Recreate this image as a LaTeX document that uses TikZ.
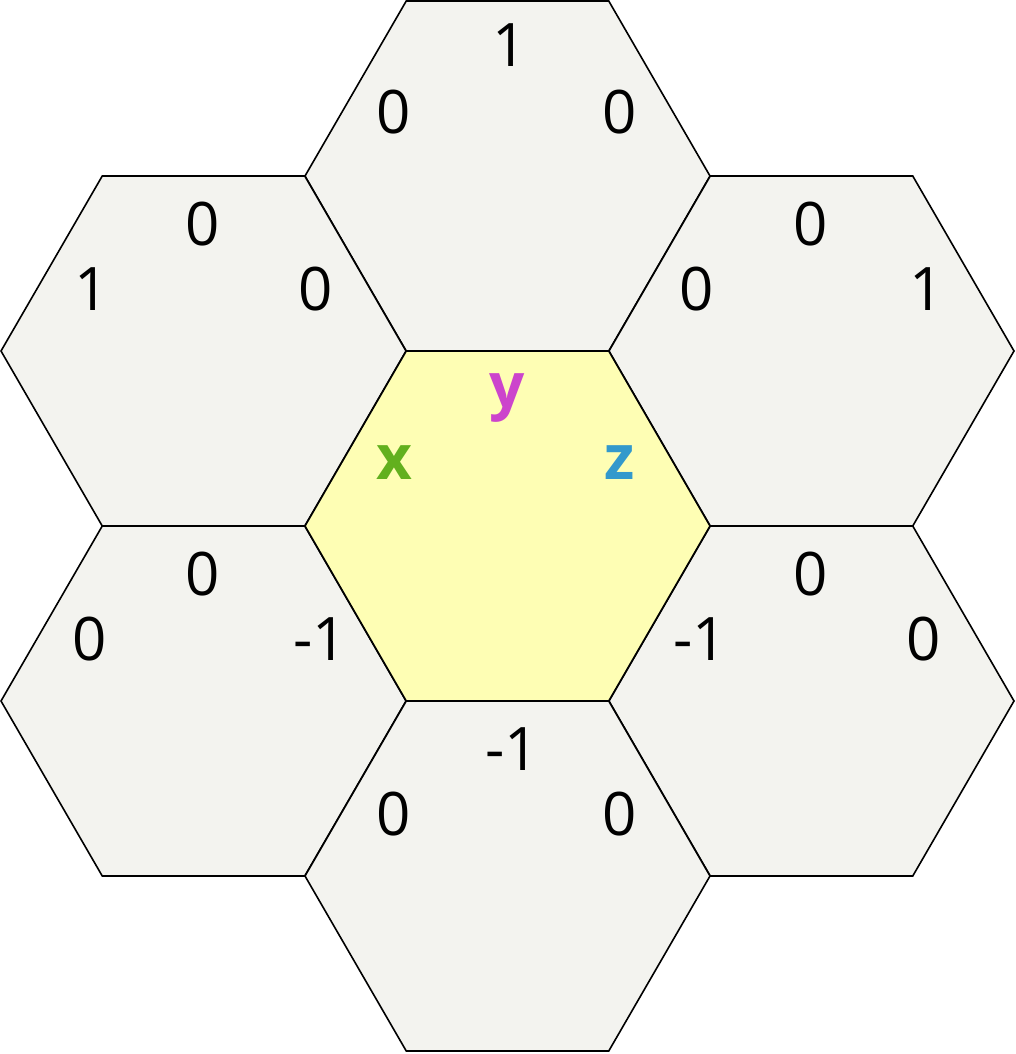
\documentclass[tikz,border=0pt]{standalone}
\usepackage{fontspec}
\setmainfont{Open Sans}
\definecolor{hexgray}{HTML}{F3F3EF}
\definecolor{hexyellow}{HTML}{FEFEB4}
\definecolor{xgreen}{HTML}{62B01E}
\definecolor{ymag}{HTML}{CC44CC}
\definecolor{zblue}{HTML}{3399CC}
\tikzset{
  hexcell/.style={draw=black, line width=1.6pt, line join=miter},
  lbl/.style={anchor=base, inner sep=0pt, font=\fontsize{60}{60}\selectfont},
  axlbl/.style={anchor=base, inner sep=0pt, font=\fontsize{62}{62}\selectfont\bfseries},
}
\newcommand{\hexat}[3]{%
  \fill[#3] (#1-202.5,#2) -- (#1-101.25,#2-175) -- (#1+101.25,#2-175) -- (#1+202.5,#2) -- (#1+101.25,#2+175) -- (#1-101.25,#2+175) -- cycle;
  \draw[hexcell] (#1-202.5,#2) -- (#1-101.25,#2-175) -- (#1+101.25,#2-175) -- (#1+202.5,#2) -- (#1+101.25,#2+175) -- (#1-101.25,#2+175) -- cycle;
}
\begin{document}
\begin{tikzpicture}[x=1pt,y=-1pt]
\useasboundingbox (0,0) rectangle (1015,1054);
\fill[white] (0,0) rectangle (1015,1054);
\hexat{507.5}{176}{hexgray}
\hexat{203.5}{351}{hexgray}
\hexat{811.5}{351}{hexgray}
\hexat{203.5}{701}{hexgray}
\hexat{811.5}{701}{hexgray}
\hexat{507.5}{876}{hexgray}
\hexat{507.5}{526}{hexyellow}
% top
\node[lbl] (t1) at (510,67) {1};
\node[lbl] (t2) at (394,133) {0};
\node[lbl] (t3) at (620,133) {0};
% upper left
\node[lbl] (ul1) at (203,245) {0};
\node[lbl] (ul2) at (92,310) {1};
\node[lbl] (ul3) at (316,310) {0};
% upper right
\node[lbl] (ur1) at (811,245) {0};
\node[lbl] (ur2) at (697,310) {0};
\node[lbl] (ur3) at (927,310) {1};
% lower left
\node[lbl] (ll1) at (203,595) {0};
\node[lbl] (ll2) at (90,660) {0};
\node[lbl] (ll3) at (320,660) {-1};
% lower right
\node[lbl] (lr1) at (811,595) {0};
\node[lbl] (lr2) at (700,660) {-1};
\node[lbl] (lr3) at (924,660) {0};
% bottom
\node[lbl] (b1) at (512,770) {-1};
\node[lbl] (b2) at (394,835) {0};
\node[lbl] (b3) at (620,835) {0};
% center
\node[axlbl, text=ymag] (cy) at (507,407) {y};
\node[axlbl, text=xgreen] (cx) at (394,479) {x};
\node[axlbl, text=zblue] (cz) at (620,479) {z};
\end{tikzpicture}
\end{document}
